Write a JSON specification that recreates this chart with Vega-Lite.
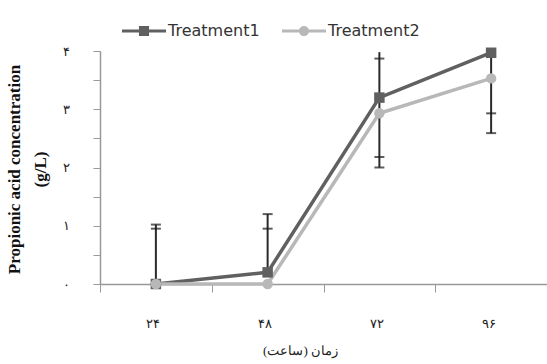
{
  "$schema": "https://vega.github.io/schema/vega-lite/v6.json",
  "autosize": {"type": "none"},
  "padding": {"left": 100, "top": 51, "right": 0, "bottom": 80},
  "width": 447,
  "height": 233,
  "background": "white",
  "config": {
    "view": {"stroke": null},
    "axisY": {
      "grid": false, "domainColor": "#999", "domainWidth": 1.5, "tickColor": "#999", "tickSize": 7, "tickWidth": 1,
      "values": [0, 1, 2, 3, 4],
      "labelExpr": "['۰','۱','۲','۳','۴'][datum.value]",
      "labelFont": "Liberation Serif", "labelFontSize": 13, "labelColor": "#222", "labelPadding": 24,
      "titleFont": "Liberation Serif", "titleFontSize": 17, "titleFontWeight": "bold", "titleColor": "#111",
      "titleX": -77, "titleY": 118, "titleLineHeight": 26
    },
    "legend": {
      "title": null, "orient": "none", "direction": "horizontal", "legendX": 22, "legendY": -42,
      "symbolSize": 1936, "symbolStrokeWidth": 0, "symbolOpacity": 1, "labelFont": "DejaVu Sans", "labelFontSize": 16, "labelColor": "#333",
      "labelOffset": 2, "columnPadding": 22
    }
  },
  "datasets": {
    "series": [
      {"t": "۲۴", "s": "Treatment1", "v": 0},
      {"t": "۴۸", "s": "Treatment1", "v": 0.2},
      {"t": "۷۲", "s": "Treatment1", "v": 3.2},
      {"t": "۹۶", "s": "Treatment1", "v": 3.97},
      {"t": "۲۴", "s": "Treatment2", "v": 0},
      {"t": "۴۸", "s": "Treatment2", "v": 0},
      {"t": "۷۲", "s": "Treatment2", "v": 2.93},
      {"t": "۹۶", "s": "Treatment2", "v": 3.53}
    ],
    "bars": [
      {"t": "۲۴", "lo": 0, "hi": 1.02},
      {"t": "۴۸", "lo": 0.2, "hi": 1.2},
      {"t": "۷۲", "lo": 2.0, "hi": 3.98},
      {"t": "۹۶", "lo": 2.59, "hi": 3.97}
    ],
    "caps": [
      {"t": "۲۴", "c": 1.02},
      {"t": "۲۴", "c": 0.95},
      {"t": "۴۸", "c": 1.2},
      {"t": "۴۸", "c": 0.95},
      {"t": "۷۲", "c": 3.87},
      {"t": "۷۲", "c": 2.18},
      {"t": "۷۲", "c": 2.0},
      {"t": "۹۶", "c": 2.93},
      {"t": "۹۶", "c": 2.59}
    ]
  },
  "encoding": {
    "x": {
      "field": "t", "type": "nominal",
      "sort": ["۲۴", "۴۸", "۷۲", "۹۶"],
      "scale": {"type": "band", "paddingInner": 0, "paddingOuter": 0},
      "axis": {
        "title": "‎(ساعت)‎ ‎زمان‎",
        "titleFont": "Liberation Serif", "titleFontSize": 13, "titleFontWeight": "normal", "titleColor": "#222",
        "titleX": 200, "titleY": 66, "titleBaseline": "middle",
        "labelAngle": 0, "labelFont": "Liberation Serif", "labelFontSize": 13, "labelColor": "#222",
        "labelPadding": 25, "labelOffset": -3,
        "tickBand": "extent", "tickSize": 8, "tickColor": "#999", "domainColor": "#999",
        "tickWidth": 1, "domainWidth": 1.5
      }
    }
  },
  "layer": [
    {
      "data": {"name": "bars"},
      "mark": {"type": "rule", "color": "#2a2a2a", "strokeWidth": 2},
      "encoding": {
        "y": {"field": "lo", "type": "quantitative", "scale": {"domain": [0, 4]}, "title": ["Propionic acid concentration", "(g/L)"]},
        "y2": {"field": "hi"}
      }
    },
    {
      "data": {"name": "caps"},
      "mark": {"type": "tick", "color": "#1a1a1a", "thickness": 2, "size": 10, "orient": "horizontal"},
      "encoding": {
        "y": {"field": "c", "type": "quantitative", "title": ["Propionic acid concentration", "(g/L)"]}
      }
    },
    {
      "data": {"name": "series"},
      "mark": {"type": "line", "strokeWidth": 3.5},
      "encoding": {
        "y": {"field": "v", "type": "quantitative", "title": ["Propionic acid concentration", "(g/L)"]},
        "color": {"field": "s", "type": "nominal", "scale": {"domain": ["Treatment1", "Treatment2"], "range": ["#606060", "#b8b8b8"]}}
      }
    },
    {
      "data": {"name": "series"},
      "transform": [{"filter": "datum.s === 'Treatment1'"}],
      "mark": {"type": "point", "filled": true, "opacity": 1, "size": 110, "shape": "square"},
      "encoding": {
        "y": {"field": "v", "type": "quantitative", "title": ["Propionic acid concentration", "(g/L)"]},
        "color": {"field": "s", "type": "nominal"}
      }
    },
    {
      "data": {"name": "series"},
      "transform": [{"filter": "datum.s === 'Treatment2'"}],
      "mark": {"type": "point", "filled": true, "opacity": 1, "size": 110, "shape": "circle"},
      "encoding": {
        "y": {"field": "v", "type": "quantitative", "title": ["Propionic acid concentration", "(g/L)"]},
        "color": {"field": "s", "type": "nominal"}
      }
    },
    {
      "data": {"name": "series"},
      "mark": {"type": "point", "filled": true, "opacity": 0},
      "encoding": {
        "y": {"field": "v", "type": "quantitative", "title": ["Propionic acid concentration", "(g/L)"]},
        "color": {"field": "s", "type": "nominal"},
        "shape": {"field": "s", "type": "nominal",
          "scale": {"domain": ["Treatment1", "Treatment2"], "range": [
            "M-1,-0.07H-0.23V-0.23H0.23V-0.07H1V0.07H0.23V0.23H-0.23V0.07H-1Z",
            "M-1,-0.07H1V0.07H-1Z M0.23,0A0.23,0.23,0,1,1,-0.23,0A0.23,0.23,0,1,1,0.23,0Z"]}}
      }
    }
  ]
}
